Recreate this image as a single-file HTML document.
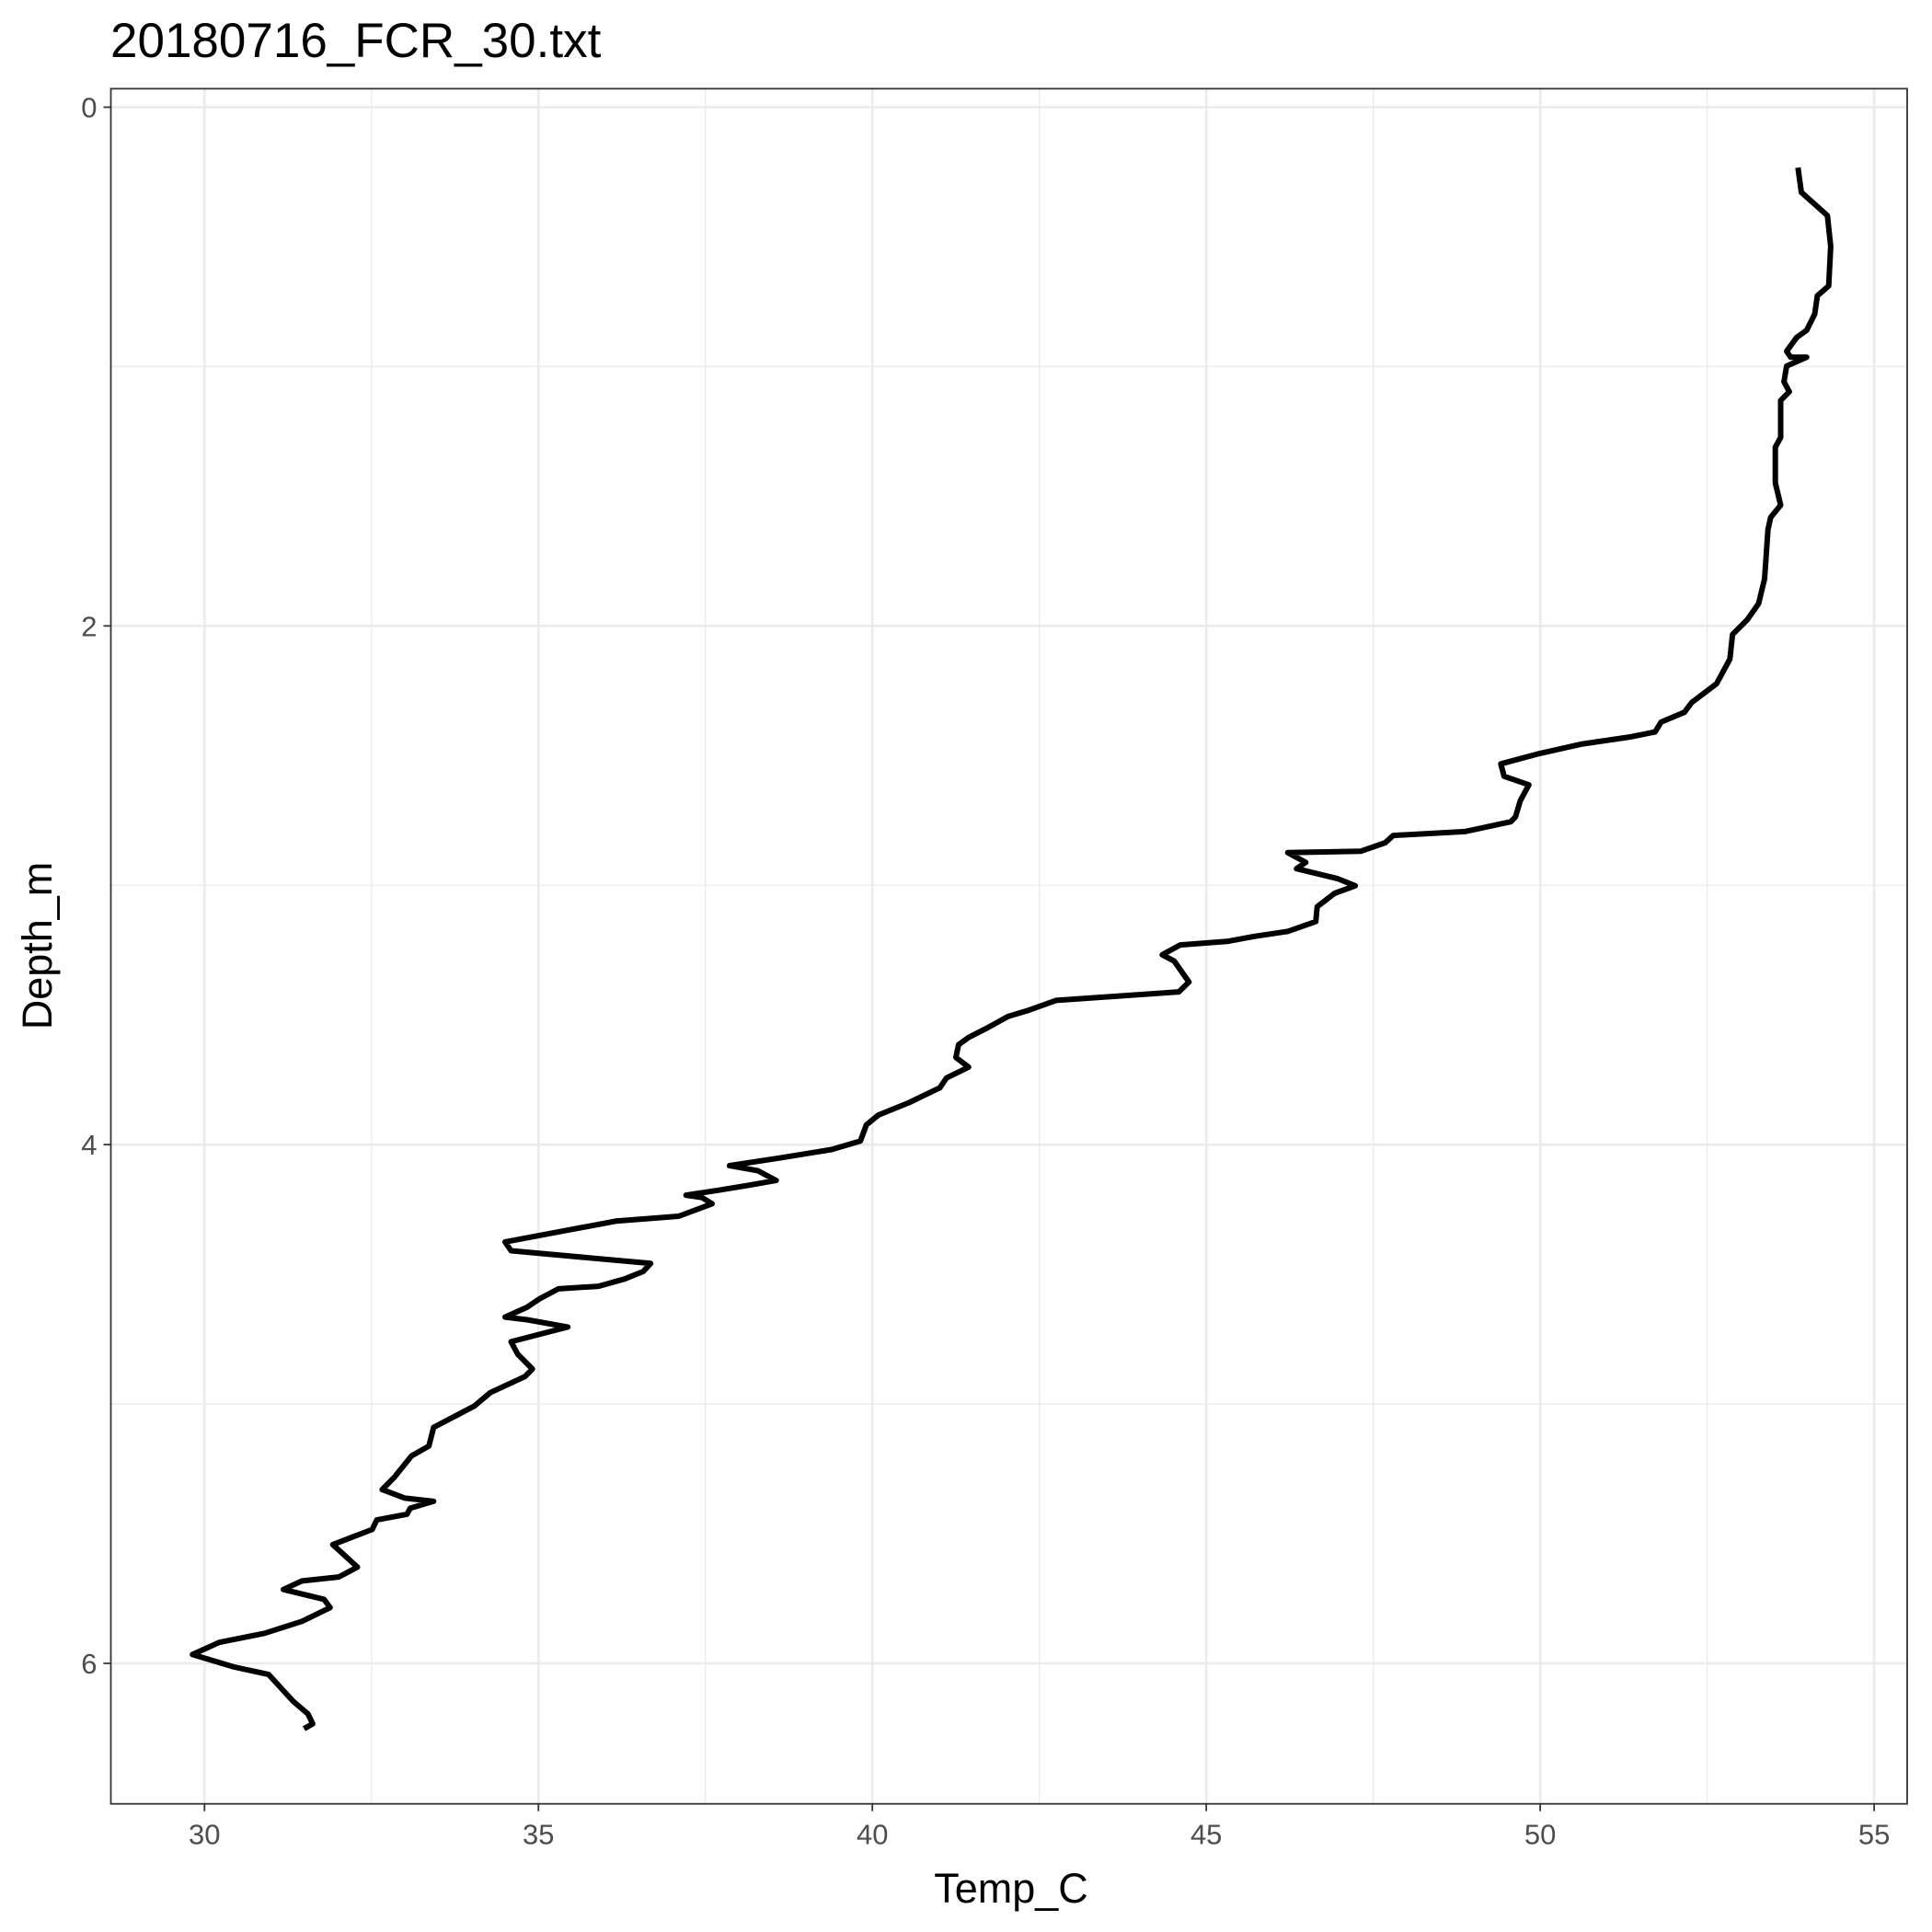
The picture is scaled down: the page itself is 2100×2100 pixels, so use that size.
<!DOCTYPE html>
<html><head><meta charset="utf-8"><style>
html,body{margin:0;padding:0;background:#fff;}
svg{display:block;font-family:"Liberation Sans",sans-serif;}
</style></head><body>
<svg id="chart" width="2100" height="2100" viewBox="0 0 2100 2100">
<text x="120" y="62" font-size="53" fill="#000">20180716_FCR_30.txt</text>
<g id="grid"></g>
<g id="plot"></g>
<rect x="120.5" y="96.4" width="1952.5" height="1864.3" fill="none" stroke="#333" stroke-width="1.8"/>
<g id="axes"></g>
<text x="1099" y="2068" font-size="45" text-anchor="middle" fill="#000">Temp_C</text>
<text transform="translate(56,1028) rotate(-90)" font-size="45" text-anchor="middle" fill="#000">Depth_m</text>
</svg>
<script>
const temps=[53.86,53.91,54.30,54.35,54.32,54.15,54.11,53.99,53.84,53.69,53.75,53.99,53.69,53.65,53.73,53.60,53.60,53.52,53.52,53.60,53.45,53.41,53.36,53.27,53.10,52.88,52.84,52.64,52.27,52.16,51.81,51.72,51.35,50.61,49.96,49.41,49.46,49.83,49.70,49.63,49.56,48.87,47.80,47.68,47.31,46.22,46.49,46.35,46.96,47.23,46.92,46.66,46.64,46.22,45.72,45.33,44.61,44.34,44.52,44.74,44.59,42.75,42.34,42.03,41.70,41.44,41.29,41.25,41.44,41.11,41.01,40.55,40.09,39.91,39.82,39.39,38.60,37.86,38.28,38.56,38.14,37.69,37.21,37.45,37.60,37.10,36.16,34.50,34.59,36.68,36.57,36.29,35.90,35.30,35.02,34.83,34.50,34.83,35.44,34.59,34.69,34.91,34.80,34.28,34.04,33.78,33.43,33.36,33.10,32.84,32.66,33.00,33.43,33.08,33.03,32.58,32.51,31.92,32.29,32.01,31.46,31.18,31.79,31.88,31.46,30.90,30.22,29.82,30.44,30.96,31.33,31.55,31.62,31.49];
const depths=[0.233,0.328,0.418,0.537,0.689,0.727,0.798,0.860,0.888,0.941,0.964,0.964,0.998,1.059,1.097,1.131,1.273,1.311,1.449,1.534,1.582,1.629,1.819,1.914,1.976,2.033,2.128,2.223,2.295,2.333,2.371,2.409,2.428,2.456,2.494,2.532,2.580,2.613,2.675,2.736,2.755,2.793,2.808,2.836,2.869,2.874,2.912,2.936,2.974,3.002,3.031,3.083,3.140,3.178,3.197,3.216,3.230,3.268,3.292,3.373,3.411,3.444,3.482,3.506,3.553,3.587,3.615,3.664,3.701,3.743,3.781,3.838,3.886,3.924,3.986,4.019,4.052,4.081,4.100,4.138,4.157,4.176,4.195,4.204,4.228,4.276,4.295,4.375,4.409,4.458,4.489,4.518,4.546,4.556,4.594,4.627,4.665,4.675,4.703,4.760,4.808,4.865,4.894,4.956,5.008,5.043,5.090,5.162,5.200,5.283,5.330,5.363,5.375,5.402,5.425,5.447,5.484,5.542,5.629,5.667,5.682,5.715,5.753,5.785,5.838,5.884,5.919,5.966,6.014,6.043,6.147,6.195,6.233,6.252];
const xTicks=[30,35,40,45,50,55];
const xTickLabels=["30","35","40","45","50","55"];
const yTicks=[0,2,4,6];
const yTickLabels=["0","2","4","6"];
const xMinor=[32.5,37.5,42.5,47.5,52.5];
const yMinor=[1,3,5];

const NS="http://www.w3.org/2000/svg";
const L=120.5,R=2073,T=96.4,B=1960.7;
function xs(v){return 222.3+(v-30)*(2037.1-222.3)/25;}
function ys(v){return 116.5+v*(1808-116.5)/6;}
function mk(tag,attrs,parent){const e=document.createElementNS(NS,tag);for(const k in attrs)e.setAttribute(k,attrs[k]);parent.appendChild(e);return e;}
const grid=document.getElementById('grid'),plot=document.getElementById('plot'),axes=document.getElementById('axes');
xMinor.forEach(v=>{const l=mk('line',{x1:xs(v),x2:xs(v),y1:T,y2:B,stroke:'#ebebeb','stroke-width':1.3},grid);

});
yMinor.forEach(v=>{const l=mk('line',{x1:L,x2:R,y1:ys(v),y2:ys(v),stroke:'#ebebeb','stroke-width':1.3},grid);

});
xTicks.forEach((v,i)=>{const l=mk('line',{x1:xs(v),x2:xs(v),y1:T,y2:B,stroke:'#ebebeb','stroke-width':2.6},grid);


const t=mk('line',{x1:xs(v),x2:xs(v),y1:B,y2:B+8,stroke:'#333','stroke-width':1.8},axes);


const tx=mk('text',{x:xs(v),y:B+44,'font-size':31,'text-anchor':'middle',fill:'#4d4d4d'},axes);
tx.textContent=xTickLabels[i];

});
yTicks.forEach((v,i)=>{const l=mk('line',{x1:L,x2:R,y1:ys(v),y2:ys(v),stroke:'#ebebeb','stroke-width':2.6},grid);


const t=mk('line',{x1:L-8,x2:L,y1:ys(v),y2:ys(v),stroke:'#333','stroke-width':1.8},axes);


const tx=mk('text',{x:L-15,y:ys(v)+11,'font-size':31,'text-anchor':'end',fill:'#4d4d4d'},axes);
tx.textContent=yTickLabels[i];

});
const pts=temps.map((t,i)=>xs(t).toFixed(1)+','+ys(depths[i]).toFixed(1)).join(' ');
const pl=mk('polyline',{points:pts,fill:'none',stroke:'#000','stroke-width':6,'stroke-linejoin':'round'},plot);


</script>
</body></html>
